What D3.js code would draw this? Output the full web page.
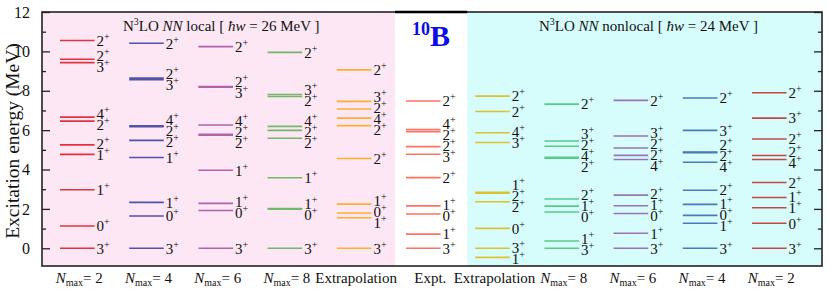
<!DOCTYPE html>
<html>
<head>
<meta charset="utf-8">
<script src="https://cdn.jsdelivr.net/npm/d3@7"></script>
<style>
  body { margin: 0; background: #fff; }
</style>
</head>
<body>
<svg id="chart" width="830" height="293"></svg>
<script>
// level energies (MeV) and spins, one pair of arrays per column
const localN2E = [0, 1.13, 2.97, 4.77, 5.25, 6.46, 6.66, 9.43, 9.60, 10.55];
const localN2J = ["3", "0", "1", "1", "2", "2", "4", "3", "2", "2"];
const localN4E = [0, 1.64, 2.33, 4.61, 5.48, 6.17, 6.22, 8.56, 8.64, 10.41];
const localN4J = ["3", "0", "1", "1", "2", "2", "4", "3", "2", "2"];
const localN6E = [0, 1.92, 2.28, 3.96, 5.74, 5.79, 6.26, 8.18, 8.22, 10.24];
const localN6J = ["3", "0", "1", "1", "2", "2", "4", "3", "2", "2"];
const localN8E = [0, 1.98, 2.02, 3.58, 5.59, 5.99, 6.19, 7.71, 7.81, 9.95];
const localN8J = ["3", "0", "1", "1", "2", "2", "4", "2", "3", "2"];
const localExE = [0, 1.55, 1.79, 2.24, 4.56, 6.23, 6.61, 7.07, 7.46, 9.06];
const localExJ = ["3", "1", "0", "1", "2", "2", "4", "2", "3", "2"];
const exptE = [0, 0.718, 1.740, 2.154, 3.587, 4.774, 5.164, 5.92, 6.025, 7.48];
const exptJ = ["3", "1", "0", "1", "2", "3", "2", "2", "4", "2"];
const nonlocExE = [-0.46, 0, 1.01, 2.36, 2.80, 2.84, 5.37, 5.87, 6.95, 7.73];
const nonlocExJ = ["1", "3", "0", "2", "2", "1", "3", "4", "2", "2"];
const nonlocN8E = [0, 0.37, 1.84, 2.14, 2.50, 4.57, 4.62, 5.18, 5.45, 7.32];
const nonlocN8J = ["3", "1", "0", "1", "2", "2", "4", "2", "3", "2"];
const nonlocN6E = [0, 0.76, 1.77, 2.16, 2.70, 4.51, 4.72, 5.09, 5.70, 7.51];
const nonlocN6J = ["3", "1", "0", "1", "2", "4", "2", "2", "3", "2"];
const nonlocN4E = [0, 1.27, 1.67, 2.23, 2.95, 4.37, 4.86, 4.89, 5.99, 7.63];
const nonlocN4J = ["3", "1", "0", "1", "2", "4", "2", "2", "3", "2"];
const nonlocN2E = [0, 1.27, 2.06, 2.58, 3.34, 4.51, 4.71, 5.55, 6.61, 7.90];
const nonlocN2J = ["3", "0", "1", "1", "2", "4", "2", "2", "3", "2"];

const columnKeys = ["l2", "l4", "l6", "l8", "lx", "ex", "nx", "n8", "n6", "n4", "n2"];
const columnNames = ["N2", "N4", "N6", "N8", "Extrapolation", "Expt.", "Extrapolation", "N8", "N6", "N4", "N2"];
const yTicks = [0, 2, 4, 6, 8, 10, 12];
const yMinor = [1, 3, 5, 7, 9, 11];

const colors = ["#e2323e", "#5252a6", "#b262a8", "#72b86a", "#ffae2e", "#ff7262",
                "#dcc232", "#58cc86", "#9a72b6", "#4a7aba", "#c24848"];

const columns = [
  [localN2E, localN2J], [localN4E, localN4J], [localN6E, localN6J], [localN8E, localN8J],
  [localExE, localExJ], [exptE, exptJ], [nonlocExE, nonlocExJ], [nonlocN8E, nonlocN8J],
  [nonlocN6E, nonlocN6J], [nonlocN4E, nonlocN4J], [nonlocN2E, nonlocN2J]
].map((c, i) => ({ key: columnKeys[i], name: columnNames[i], color: colors[i],
  levels: c[0].map((e, k) => ({ e: e, j: c[1][k] })) }));

const serif = "'Liberation Serif', 'Times New Roman', 'DejaVu Serif', serif";
const svg = d3.select("#chart");
const mLeft = 42, mRight = 822, mTop = 12, mBottom = 266;

const y = d3.scaleLinear().domain([-0.9, 12]).range([mBottom, mTop]);
const x = d3.scaleBand().domain(columnKeys).range([60, 786.6])
  .paddingInner(0.5).paddingOuter(0).align(0);
const bw = x.bandwidth();

// panel backgrounds
const splitA = x("ex") - 11, splitB = x("nx") - 8;
svg.append("rect").attr("x", mLeft).attr("y", mTop).attr("width", splitA - mLeft)
  .attr("height", mBottom - mTop).attr("fill", "#fde7f4");
svg.append("rect").attr("x", splitB).attr("y", mTop).attr("width", mRight - splitB)
  .attr("height", mBottom - mTop).attr("fill", "#d7fcfc");

// level lines and labels
const gap = 11;
columns.forEach(col => {
  const g = svg.append("g");
  g.selectAll("line").data(col.levels).join("line")
    .attr("x1", x(col.key)).attr("x2", x(col.key) + bw)
    .attr("y1", d => y(d.e)).attr("y2", d => y(d.e))
    .attr("stroke", col.color).attr("stroke-width", 1.6);

  // spread labels so they don't overlap
  const sorted = col.levels.slice().sort((a, b) => b.e - a.e);
  sorted.forEach(d => d.ly = y(d.e));
  for (let it = 0; it < 200; it++) {
    for (let i = 0; i < sorted.length - 1; i++) {
      const dd = sorted[i + 1].ly - sorted[i].ly;
      if (dd < gap) {
        const s = (gap - dd) / 2;
        sorted[i].ly -= s;
        sorted[i + 1].ly += s;
      }
    }
  }
  const t = g.selectAll("text").data(sorted).join("text")
    .attr("x", x(col.key) + bw + 2).attr("y", d => d.ly).attr("dy", "0.35em")
    .attr("font-size", 15);
  t.append("tspan").text(d => d.j);
  t.append("tspan").text("+").attr("font-size", 10).attr("dy", -6);
});

// axes
const axL = svg.append("g").attr("transform", `translate(${mLeft},0)`)
  .call(d3.axisLeft(y).tickValues(yTicks).tickSize(-8).tickPadding(12).tickFormat(d3.format("d")));
svg.append("g").attr("transform", `translate(${mLeft},0)`)
  .call(d3.axisLeft(y).tickValues(yMinor).tickSize(-4).tickFormat(""));
svg.append("g").attr("transform", `translate(${mRight},0)`)
  .call(d3.axisRight(y).tickValues(yTicks).tickSize(-8).tickFormat(""));
svg.append("g").attr("transform", `translate(${mRight},0)`)
  .call(d3.axisRight(y).tickValues(yMinor).tickSize(-4).tickFormat(""));
svg.selectAll(".domain").remove();
svg.selectAll(".tick line").attr("stroke", "#222").attr("stroke-width", 1.3);
axL.selectAll(".tick text").attr("font-size", 16).attr("fill", "#111");

// frame
svg.append("rect").attr("x", mLeft).attr("y", mTop).attr("width", mRight - mLeft)
  .attr("height", mBottom - mTop).attr("fill", "none").attr("stroke", "#222").attr("stroke-width", 1.6);
svg.append("line").attr("x1", splitA).attr("x2", splitB).attr("y1", mTop).attr("y2", mTop)
  .attr("stroke", "#000").attr("stroke-width", 2.4);

// y label
svg.append("text").attr("transform", `translate(19,${(mTop + mBottom) / 2 + 2}) rotate(-90)`)
  .attr("text-anchor", "middle").attr("font-size", 19.5).text("Excitation energy (MeV)");

// bottom labels
columns.forEach(col => {
  const cx = x(col.key) + bw / 2 + (col.key === "ex" ? 7 : 2);
  const t = svg.append("text").attr("x", cx).attr("y", 283)
    .attr("text-anchor", "middle").attr("font-size", 15);
  if (col.name.startsWith("N")) {
    t.append("tspan").attr("font-style", "italic").text("N");
    t.append("tspan").attr("font-size", 10).attr("dy", 3).text("max");
    t.append("tspan").attr("dy", -3).text("= " + col.name.slice(1));
  } else {
    t.text(col.name);
  }
});

// panel titles
function title(x0, kind, hw) {
  const t = svg.append("text").attr("x", x0).attr("y", 31).attr("font-size", 15);
  t.append("tspan").text("N");
  t.append("tspan").attr("font-size", 10).attr("dy", -6).text("3");
  t.append("tspan").attr("dy", 6).text("LO ");
  t.append("tspan").attr("font-style", "italic").text("NN");
  t.append("tspan").text(" " + kind + " [ ");
  t.append("tspan").attr("font-style", "italic").text("ħw");
  t.append("tspan").text(" = " + hw + " MeV ]");
}
title(123, "local", 26);
title(539, "nonlocal", 24);

// nucleus label
const nb = svg.append("text").attr("x", 431).attr("y", 46).attr("text-anchor", "middle")
  .attr("font-weight", "bold").attr("fill", "#0a0aee");
nb.append("tspan").attr("font-size", 18).attr("dy", -11).text("10");
nb.append("tspan").attr("font-size", 30).attr("dy", 11).text("B");

svg.selectAll("text").style("font-family", serif);
svg.selectAll("text:not([fill])").attr("fill", "#111");
</script>
</body>
</html>
